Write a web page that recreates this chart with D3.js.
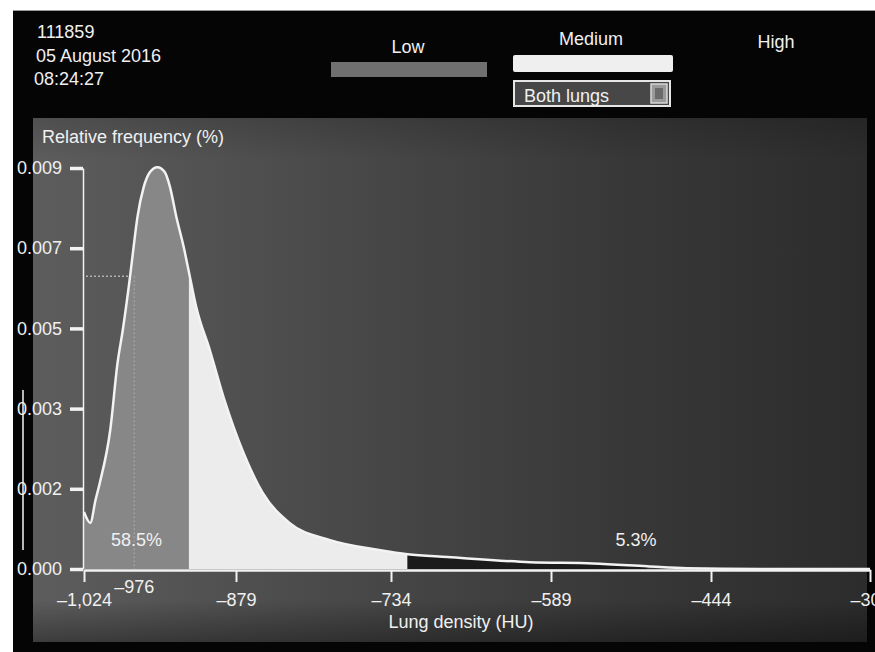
<!DOCTYPE html>
<html>
<head>
<meta charset="utf-8">
<script src="https://cdn.jsdelivr.net/npm/d3@7"></script>
<style>
  body { margin: 0; background: #fff; }
  svg { display: block; font-family: "Liberation Sans", Arial, sans-serif; }
  .lbl { fill: #f0f0f0; font-size: 18px; }
  .axis text { fill: #f0f0f0; font-size: 18px; font-family: "Liberation Sans", Arial, sans-serif; }
  .axis line, .axis path { stroke: #f2f2f2; }
</style>
</head>
<body>
<svg id="chart" width="875" height="652"></svg>
<script>
  // header of the scanner screen
  const headerLines = ["111859", "05 August 2016", "08:24:27"];
  const lungSelect = "Both lungs";

  // density classes
  const regionNames = ["Low", "Medium", "High"];
  const regionFrom = [-1024, -924, -719];
  const regionTo = [-924, -719, -502];

  // histogram (HU, relative frequency)
  const densityHU = [-1024, -1018, -1013, -1009, -999, -992, -987, -980, -977, -973, -967, -961,
    -954, -947, -942, -936, -929, -923, -917, -904, -890, -873, -854, -829, -791, -744, -719,
    -683, -608, -551, -502, -466, -399, -299];
  const relFreq = [0.00142, 0.00115, 0.00172, 0.00207, 0.00273, 0.00414, 0.00496, 0.00631, 0.00696,
    0.00778, 0.00853, 0.00890, 0.00902, 0.00890, 0.00853, 0.00779, 0.00704, 0.00629, 0.00554,
    0.00446, 0.00321, 0.00248, 0.00190, 0.00115, 0.00072, 0.00047, 0.00037, 0.00030, 0.00017,
    0.00014, 0.00007, 0.00002, 0, 0];

  const yTickValues = [0, 0.002, 0.003, 0.005, 0.007, 0.009];
  const yTickLabels = ["0.000", "0.002", "0.003", "0.005", "0.007", "0.009"];
  const xTickValues = [-1024, -879, -734, -589, -444, -299];
  const xTickLabels = ["\u20131,024", "\u2013879", "\u2013734", "\u2013589", "\u2013444", "\u2013300"];

  const markerHU = -976;
  const markerFreq = 0.0063;
  const markerLabel = "\u2013976";

  const pctLabels = ["58.5%", "5.3%"];
  const pctHU = [-974, -512];

  const data = d3.zip(densityHU, relFreq).map(([hu, f]) => ({hu, f}));

  const svg = d3.select("#chart");

  // the screen's axis is not evenly scaled, so both scales are piecewise
  const xPx = [84, 236, 391, 551, 711, 870];
  const x = d3.scaleLinear().domain(xTickValues).range(xPx);
  const y = d3.scaleLinear().domain(yTickValues).range(yTickValues.map((d, i) => 569 - i * 80.2));

  const defs = svg.append("defs");
  const bg = defs.append("linearGradient").attr("id", "bg").attr("x1", 0).attr("x2", 1).attr("y1", 0).attr("y2", 0);
  bg.append("stop").attr("offset", "0%").attr("stop-color", "#5d5d5d");
  bg.append("stop").attr("offset", "35%").attr("stop-color", "#4a4a4a");
  bg.append("stop").attr("offset", "70%").attr("stop-color", "#383838");
  bg.append("stop").attr("offset", "100%").attr("stop-color", "#2c2c2c");
  const shade = defs.append("linearGradient").attr("id", "shade").attr("x1", 0).attr("x2", 0).attr("y1", 0).attr("y2", 1);
  shade.append("stop").attr("offset", "0%").attr("stop-color", "#000").attr("stop-opacity", 0.15);
  shade.append("stop").attr("offset", "8%").attr("stop-color", "#000").attr("stop-opacity", 0);
  shade.append("stop").attr("offset", "92%").attr("stop-color", "#000").attr("stop-opacity", 0);
  shade.append("stop").attr("offset", "100%").attr("stop-color", "#000").attr("stop-opacity", 0.35);

  // frame
  svg.append("rect").attr("x", 13).attr("y", 10).attr("width", 862).attr("height", 642).attr("fill", "#050505");
  svg.append("line").attr("x1", 13).attr("x2", 875).attr("y1", 10.5).attr("y2", 10.5).attr("stroke", "#9a9a9a");
  svg.append("rect").attr("x", 33).attr("y", 118).attr("width", 834).attr("height", 524).attr("fill", "url(#bg)");
  svg.append("rect").attr("x", 33).attr("y", 118).attr("width", 834).attr("height", 524).attr("fill", "url(#shade)");
  svg.append("line").attr("x1", 23).attr("x2", 23).attr("y1", 390).attr("y2", 550)
    .attr("stroke", "#b8b8b8").attr("stroke-width", 2);

  // header
  svg.selectAll(".hdr").data(headerLines).join("text")
    .attr("class", "lbl hdr")
    .attr("x", (d, i) => [37, 36, 34][i])
    .attr("y", (d, i) => 38 + i * 23.5)
    .text(d => d);

  // legend
  const legendX = [408, 591, 776];
  const legendY = [53, 45, 48];
  svg.selectAll(".leg").data(regionNames).join("text")
    .attr("class", "lbl leg")
    .attr("text-anchor", "middle")
    .attr("x", (d, i) => legendX[i])
    .attr("y", (d, i) => legendY[i])
    .text(d => d);
  svg.append("rect").attr("x", 331).attr("y", 62).attr("width", 156).attr("height", 15).attr("fill", "#707070");
  svg.append("rect").attr("x", 513).attr("y", 55).attr("width", 160).attr("height", 17).attr("rx", 2).attr("fill", "#efefef");

  const sel = svg.append("g");
  sel.append("rect").attr("x", 514).attr("y", 81).attr("width", 156).attr("height", 25)
    .attr("fill", "#474747").attr("stroke", "#e6e6e6").attr("stroke-width", 2);
  sel.append("text").attr("class", "lbl").attr("x", 524).attr("y", 102).text(lungSelect);
  sel.append("rect").attr("x", 651).attr("y", 84).attr("width", 16).attr("height", 19)
    .attr("fill", "#9a9a9a").attr("stroke", "#d8d8d8").attr("stroke-width", 1.5);
  sel.append("rect").attr("x", 655).attr("y", 88).attr("width", 8).attr("height", 11).attr("fill", "#6a6a6a");

  // marker lines
  svg.append("line")
    .attr("x1", x(xTickValues[0]) + 2).attr("x2", x(markerHU))
    .attr("y1", y(markerFreq)).attr("y2", y(markerFreq))
    .attr("stroke", "#b0b0b0").attr("stroke-width", 1.5).attr("stroke-dasharray", "2,2");

  // area under the histogram, one fill per density class
  const area = d3.area()
    .x(d => x(d.hu)).y0(y(0)).y1(d => y(d.f))
    .curve(d3.curveMonotoneX);
  const fills = ["#878787", "#ececec", "#1b1b1b"];
  regionNames.forEach((name, i) => {
    defs.append("clipPath").attr("id", "clip" + i)
      .append("rect")
      .attr("x", x(regionFrom[i])).attr("width", x(regionTo[i]) - x(regionFrom[i]))
      .attr("y", 0).attr("height", 652);
    svg.append("path").datum(data)
      .attr("clip-path", "url(#clip" + i + ")")
      .attr("fill", fills[i])
      .attr("d", area);
  });

  svg.append("line")
    .attr("x1", x(markerHU)).attr("x2", x(markerHU))
    .attr("y1", y(markerFreq)).attr("y2", y(0))
    .attr("stroke", "#b8b8b8").attr("stroke-opacity", 0.5).attr("stroke-width", 1.5)
    .attr("stroke-dasharray", "2,2");

  // histogram curve
  const line = d3.line().x(d => x(d.hu)).y(d => y(d.f)).curve(d3.curveMonotoneX);
  svg.append("path").datum(data)
    .attr("fill", "none").attr("stroke", "#f3f3f3").attr("stroke-width", 2.5)
    .attr("d", line);

  // axes
  const yAxis = d3.axisLeft(y)
    .tickValues(yTickValues)
    .tickFormat((d, i) => yTickLabels[i])
    .tickSize(13).tickSizeOuter(0).tickPadding(8);
  const gy = svg.append("g").attr("class", "axis").attr("transform", "translate(83,0)").call(yAxis);
  gy.select(".domain").attr("stroke-width", 1.5);
  gy.selectAll(".tick line").attr("stroke-width", 3.5);

  const xAxis = d3.axisBottom(x)
    .tickValues(xTickValues)
    .tickFormat((d, i) => xTickLabels[i])
    .tickSize(12).tickSizeOuter(0).tickPadding(11);
  const gx = svg.append("g").attr("class", "axis").attr("transform", "translate(0,570)").call(xAxis);
  gx.select(".domain").attr("stroke-width", 2.5);
  gx.selectAll(".tick line").attr("stroke-width", 2);

  svg.append("text").attr("class", "lbl").attr("text-anchor", "middle")
    .attr("x", x(markerHU)).attr("y", 593).text(markerLabel);

  svg.selectAll(".pct").data(pctLabels).join("text")
    .attr("class", "lbl pct")
    .attr("text-anchor", "middle")
    .attr("fill", "#e0e0e0")
    .attr("x", (d, i) => x(pctHU[i]))
    .attr("y", 546)
    .text(d => d);

  svg.append("text").attr("class", "lbl").attr("x", 42).attr("y", 143).text("Relative frequency (%)");
  svg.append("text").attr("class", "lbl").attr("text-anchor", "middle")
    .attr("x", 461).attr("y", 628).text("Lung density (HU)");
</script>
</body>
</html>
